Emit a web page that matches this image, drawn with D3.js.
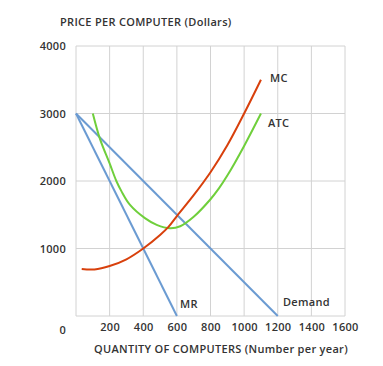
<!DOCTYPE html>
<html>
<head>
<meta charset="utf-8">
<title>monopoly_costs</title>
<script src="https://cdn.jsdelivr.net/npm/d3@7"></script>
<style>
  body { margin: 0; background: #fff; }
  text { font-family: "Open Sans", "DejaVu Sans", sans-serif; fill: #333; font-weight: 600; letter-spacing: 0.3px; }
</style>
</head>
<body>
<svg id="chart" width="383" height="366"></svg>
<script>
// values
const xTicks = [200, 400, 600, 800, 1000, 1200, 1400, 1600]
const yTicks = [1000, 2000, 3000, 4000]

const demandQ = [0, 1200]
const demandP = [3000, 0]

const mrQ = [0, 600]
const mrP = [3000, 0]

const mcQ = [34, 110, 200, 300, 400, 500, 550, 600, 700, 800, 900, 1000, 1100]
const mcP = [696, 690, 740, 840, 1000, 1200, 1320, 1480, 1790, 2130, 2530, 3000, 3500]

const atcQ = [100, 143, 200, 240, 270, 320, 410, 480, 560, 620, 700, 800, 850, 900, 1000, 1100]
const atcP = [3000, 2620, 2260, 2000, 1850, 1650, 1450, 1350, 1300, 1330, 1470, 1730, 1890, 2080, 2520, 3000]

const svg = d3.select('#chart')
const fs = 11

const x = d3.scaleLinear().domain([0, 1600]).range([76, 345])
const y = d3.scaleLinear().domain([0, 4000]).range([316, 46])

// grid
let grid = svg.append('g')
grid.selectAll('line.v').data([0].concat(xTicks)).enter().append('line')
    .attr('x1', d => x(d)).attr('x2', d => x(d))
    .attr('y1', y(0)).attr('y2', y(4000))
    .attr('stroke', '#d2d2d2').attr('stroke-width', 1)
grid.selectAll('line.h').data([0].concat(yTicks)).enter().append('line')
    .attr('x1', x(0)).attr('x2', x(1600))
    .attr('y1', d => y(d)).attr('y2', d => y(d))
    .attr('stroke', '#d2d2d2').attr('stroke-width', 1)

// axes (labels only, no domain lines)
let xAxis = svg.append('g')
    .attr('transform', `translate(0, ${y(0) + 7})`)
    .call(d3.axisBottom(x).tickValues(xTicks).tickSize(0).tickPadding(0).tickFormat(d3.format('d')))
xAxis.select('.domain').remove()
xAxis.selectAll('text').attr('font-size', fs).attr('fill', '#333')
    .style('font-family', '"Open Sans", sans-serif')

let yAxis = svg.append('g')
    .attr('transform', `translate(${x(0) - 10}, 0)`)
    .call(d3.axisLeft(y).tickValues(yTicks).tickSize(0).tickPadding(0).tickFormat(d3.format('d')))
yAxis.select('.domain').remove()
yAxis.selectAll('text').attr('font-size', fs).attr('fill', '#333')
    .style('font-family', '"Open Sans", sans-serif')

svg.append('text').attr('x', x(0) - 10).attr('y', y(0) + 18)
    .attr('text-anchor', 'end').attr('font-size', fs).text('0')

// titles
svg.append('text').attr('x', 60).attr('y', 26)
    .attr('font-size', fs).text('PRICE PER COMPUTER (Dollars)')
svg.append('text').attr('x', 94).attr('y', 353)
    .attr('font-size', fs).text('QUANTITY OF COMPUTERS (Number per year)')

// curves
function series(qs, ps) { return qs.map((q, i) => [q, ps[i]]) }
let line = d3.line().x(d => x(d[0])).y(d => y(d[1]))
let smooth = d3.line().x(d => x(d[0])).y(d => y(d[1])).curve(d3.curveCatmullRom)

svg.append('path').attr('d', line(series(demandQ, demandP)))
    .attr('fill', 'none').attr('stroke', '#6b9bd2').attr('stroke-width', 2)
svg.append('path').attr('d', line(series(mrQ, mrP)))
    .attr('fill', 'none').attr('stroke', '#6b9bd2').attr('stroke-width', 2)
svg.append('path').attr('d', smooth(series(atcQ, atcP)))
    .attr('fill', 'none').attr('stroke', '#6fcf3b').attr('stroke-width', 2)
svg.append('path').attr('d', smooth(series(mcQ, mcP)))
    .attr('fill', 'none').attr('stroke', '#d8400c').attr('stroke-width', 2)

// curve labels
svg.append('text').attr('x', 270).attr('y', 82).attr('font-size', fs).text('MC')
svg.append('text').attr('x', 268).attr('y', 127).attr('font-size', fs).text('ATC')
svg.append('text').attr('x', 180).attr('y', 308).attr('font-size', fs).text('MR')
svg.append('text').attr('x', 283).attr('y', 306).attr('font-size', fs).text('Demand')
</script>
</body>
</html>
